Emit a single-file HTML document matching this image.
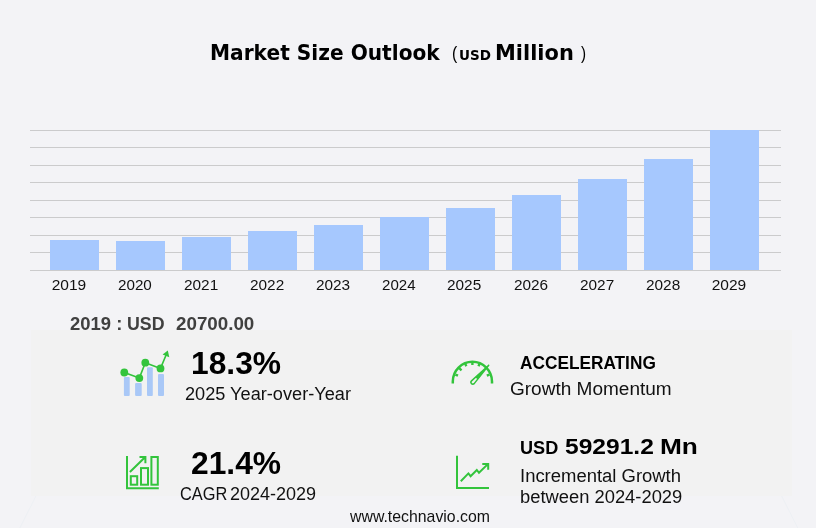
<!DOCTYPE html>
<html><head><meta charset="utf-8">
<style>
html,body{margin:0;padding:0;}
body{width:816px;height:528px;background:#f3f3f6;position:relative;overflow:hidden;font-family:"Liberation Sans",sans-serif;color:#000;}
.t{position:absolute;white-space:nowrap;line-height:1;transform-origin:0 0;}
.panel{position:absolute;left:31px;top:330px;width:761px;height:166px;background:#f2f2f2;}
.grid{position:absolute;left:30px;width:751px;height:1px;background:#cbcbcc;}
.bar{position:absolute;width:49px;background:#a6c8fe;}
svg{position:absolute;left:0;top:0;}
</style></head><body>
<div class="panel"></div>
<div class="grid" style="top:130px"></div>
<div class="grid" style="top:147px"></div>
<div class="grid" style="top:165px"></div>
<div class="grid" style="top:182px"></div>
<div class="grid" style="top:200px"></div>
<div class="grid" style="top:217px"></div>
<div class="grid" style="top:235px"></div>
<div class="grid" style="top:252px"></div>
<div class="grid" style="top:270px"></div>
<div class="bar" style="left:50px;top:240px;height:30px"></div>
<div class="bar" style="left:116px;top:241px;height:29px"></div>
<div class="bar" style="left:182px;top:237px;height:33px"></div>
<div class="bar" style="left:248px;top:231px;height:39px"></div>
<div class="bar" style="left:314px;top:225px;height:45px"></div>
<div class="bar" style="left:380px;top:217px;height:53px"></div>
<div class="bar" style="left:446px;top:208px;height:62px"></div>
<div class="bar" style="left:512px;top:195px;height:75px"></div>
<div class="bar" style="left:578px;top:179px;height:91px"></div>
<div class="bar" style="left:644px;top:159px;height:111px"></div>
<div class="bar" style="left:710px;top:130px;height:140px"></div>

<div class="t" id="title" style='left:209.69px;top:42.90px;font-size:20.80px;color:#000;font-family:"DejaVu Sans","Liberation Sans",sans-serif;font-weight:bold;transform:scaleX(0.9692);'>Market Size Outlook</div>
<div class="t" id="t2" style='left:452.10px;top:42.60px;font-size:19.00px;color:#000;font-family:"Liberation Sans",sans-serif;transform:scaleX(0.8281);'>(</div>
<div class="t" id="t3" style='left:459.10px;top:47.80px;font-size:14.30px;color:#000;font-family:"DejaVu Sans","Liberation Sans",sans-serif;font-weight:bold;transform:scaleX(0.9450);'>USD</div>
<div class="t" id="t4" style='left:494.89px;top:42.90px;font-size:20.80px;color:#000;font-family:"DejaVu Sans","Liberation Sans",sans-serif;font-weight:bold;transform:scaleX(1.0068);'>Million</div>
<div class="t" id="t5" style='left:581.26px;top:42.60px;font-size:19.00px;color:#000;font-family:"Liberation Sans",sans-serif;transform:scaleX(0.7994);'>)</div>
<div class="t" id="s1" style='left:70.29px;top:314.50px;font-size:18.20px;color:#404040;font-family:"Liberation Sans",sans-serif;font-weight:bold;transform:scaleX(1.0136);'>2019 :</div>
<div class="t" id="s2" style='left:126.65px;top:314.50px;font-size:18.20px;color:#404040;font-family:"Liberation Sans",sans-serif;font-weight:bold;transform:scaleX(0.9767);'>USD</div>
<div class="t" id="s3" style='left:175.58px;top:314.50px;font-size:18.20px;color:#404040;font-family:"Liberation Sans",sans-serif;font-weight:bold;transform:scaleX(1.0320);'>20700.00</div>
<div class="t" id="v1" style='left:190.70px;top:348.07px;font-size:31.00px;color:#000;font-family:"Liberation Sans",sans-serif;font-weight:bold;transform:scaleX(1.0243);'>18.3%</div>
<div class="t" id="l1" style='left:184.93px;top:385.42px;font-size:18.30px;color:#111;font-family:"Liberation Sans",sans-serif;transform:scaleX(0.9935);'>2025 Year-over-Year</div>
<div class="t" id="v2" style='left:520.20px;top:354.47px;font-size:18.00px;color:#000;font-family:"Liberation Sans",sans-serif;font-weight:bold;transform:scaleX(0.9586);'>ACCELERATING</div>
<div class="t" id="l2" style='left:509.80px;top:380.42px;font-size:18.30px;color:#111;font-family:"Liberation Sans",sans-serif;transform:scaleX(1.0402);'>Growth Momentum</div>
<div class="t" id="v3" style='left:190.89px;top:447.77px;font-size:31.00px;color:#000;font-family:"Liberation Sans",sans-serif;font-weight:bold;transform:scaleX(1.0241);'>21.4%</div>
<div class="t" id="l3a" style='left:180.12px;top:483.60px;font-size:19.20px;color:#111;font-family:"Liberation Sans",sans-serif;transform:scaleX(0.8535);'>CAGR</div>
<div class="t" id="l3b" style='left:230.45px;top:483.60px;font-size:19.20px;color:#111;font-family:"Liberation Sans",sans-serif;transform:scaleX(0.9382);'>2024-2029</div>
<div class="t" id="v4a" style='left:520.36px;top:440.01px;font-size:17.60px;color:#000;font-family:"Liberation Sans",sans-serif;font-weight:bold;transform:scaleX(1.0282);'>USD</div>
<div class="t" id="v4" style='left:564.71px;top:435.96px;font-size:21.20px;color:#000;font-family:"Liberation Sans",sans-serif;font-weight:bold;transform:scaleX(1.1599);'>59291.2</div>
<div class="t" id="v4b" style='left:660.27px;top:435.76px;font-size:21.20px;color:#000;font-family:"Liberation Sans",sans-serif;font-weight:bold;transform:scaleX(1.2392);'>Mn</div>
<div class="t" id="l4" style='left:519.74px;top:466.67px;font-size:18.00px;color:#111;font-family:"Liberation Sans",sans-serif;transform:scaleX(1.0251);'>Incremental Growth</div>
<div class="t" id="l5" style='left:519.62px;top:488.47px;font-size:18.00px;color:#111;font-family:"Liberation Sans",sans-serif;transform:scaleX(1.0196);'>between 2024-2029</div>
<div class="t" id="foot" style='left:350.34px;top:508.92px;font-size:15.70px;color:#111;font-family:"Liberation Sans",sans-serif;transform:scaleX(1.0098);'>www.technavio.com</div>
<div class="t" id="y2019" style='left:51.70px;top:276.99px;font-size:15.50px;color:#111;font-family:"Liberation Sans",sans-serif;'>2019</div>
<div class="t" id="y2020" style='left:117.82px;top:276.99px;font-size:15.50px;color:#111;font-family:"Liberation Sans",sans-serif;transform:scaleX(0.9810);'>2020</div>
<div class="t" id="y2021" style='left:183.70px;top:276.99px;font-size:15.50px;color:#111;font-family:"Liberation Sans",sans-serif;transform:scaleX(0.9931);'>2021</div>
<div class="t" id="y2022" style='left:249.70px;top:276.99px;font-size:15.50px;color:#111;font-family:"Liberation Sans",sans-serif;transform:scaleX(0.9910);'>2022</div>
<div class="t" id="y2023" style='left:315.70px;top:276.99px;font-size:15.50px;color:#111;font-family:"Liberation Sans",sans-serif;transform:scaleX(0.9908);'>2023</div>
<div class="t" id="y2024" style='left:381.85px;top:276.99px;font-size:15.50px;color:#111;font-family:"Liberation Sans",sans-serif;transform:scaleX(0.9722);'>2024</div>
<div class="t" id="y2025" style='left:446.92px;top:276.99px;font-size:15.50px;color:#111;font-family:"Liberation Sans",sans-serif;transform:scaleX(0.9917);'>2025</div>
<div class="t" id="y2026" style='left:513.71px;top:276.99px;font-size:15.50px;color:#111;font-family:"Liberation Sans",sans-serif;transform:scaleX(0.9904);'>2026</div>
<div class="t" id="y2027" style='left:579.70px;top:276.99px;font-size:15.50px;color:#111;font-family:"Liberation Sans",sans-serif;transform:scaleX(0.9910);'>2027</div>
<div class="t" id="y2028" style='left:645.70px;top:276.99px;font-size:15.50px;color:#111;font-family:"Liberation Sans",sans-serif;transform:scaleX(0.9926);'>2028</div>
<div class="t" id="y2029" style='left:711.70px;top:276.99px;font-size:15.50px;color:#111;font-family:"Liberation Sans",sans-serif;'>2029</div>
<svg id="icons" width="816" height="528" viewBox="0 0 816 528" fill="none">
<g stroke="#edf0f4" stroke-width="1"><line x1="36" y1="496" x2="19.8" y2="528"/><line x1="781.6" y1="496" x2="797.8" y2="528"/></g>
<!-- icon 1: bars + trend line -->
<g fill="#a9c8f7">
<rect x="123.9" y="377" width="5.8" height="19" rx="1"/>
<rect x="135.1" y="383.1" width="6.6" height="12.9" rx="1"/>
<rect x="147" y="367.2" width="5.8" height="28.8" rx="1"/>
<rect x="158" y="374" width="6" height="22" rx="1"/>
</g>
<g stroke="#33c43c" stroke-width="1.6" stroke-linecap="round" stroke-linejoin="round">
<polyline points="124.3,372.5 139.3,378.1 145.3,362.7 160.5,368.4 166.3,354.5"/>
</g>
<g fill="#33c43c">
<circle cx="124.3" cy="372.5" r="3.9"/><circle cx="139.3" cy="378.1" r="3.9"/><circle cx="145.3" cy="362.7" r="3.9"/><circle cx="160.5" cy="368.4" r="3.9"/>
<polygon points="167.8,350.4 169.3,357.2 162.6,354.4"/>
</g>
<!-- icon 2: gauge -->
<g stroke="#33c43c" stroke-width="2.5" fill="none">
<path d="M452.8 383.6 V381.4 A19.6 19.6 0 0 1 492 381.4 V383.6"/>
</g>
<g stroke="#33c43c" stroke-width="2.4">
<line x1="455.4" y1="374.6" x2="458" y2="375.7"/>
<line x1="459.2" y1="368.2" x2="461.5" y2="370.3"/>
<line x1="465.2" y1="363.6" x2="466.3" y2="366.3"/>
<line x1="472.4" y1="362" x2="472.4" y2="365"/>
<line x1="479.6" y1="363.6" x2="478.5" y2="366.3"/>
<line x1="489.4" y1="374.6" x2="486.8" y2="375.7"/>
</g>
<path d="M488.7 365.3 L471.5 380.9 A1.9 1.9 0 0 0 474.2 383.6 Z" stroke="#33c43c" stroke-width="1.5" stroke-linejoin="round" fill="none"/>
<path d="M488.7 365.3 L475.5 377.2 L477.6 379.6 Z" fill="#33c43c"/>
<!-- icon 3: bar chart outline with arrow -->
<g stroke="#33c43c" stroke-width="2" fill="none">
<path d="M127 456 V488.3 H158.8"/>
<rect x="130.8" y="476.2" width="6.4" height="8.5"/>
<rect x="141" y="468.1" width="7" height="16.6"/>
<rect x="151.4" y="457" width="6.4" height="27.7"/>
<path d="M129.9 472 L145 457.2 M139.5 457 H145.4 V463.2"/>
</g>
<!-- icon 4: line chart with arrow -->
<g stroke="#33c43c" stroke-width="2" fill="none">
<path d="M457 455.7 V488 H489"/>
<path d="M460.8 481.2 L468.4 473.4 L470.6 476.2 L476.8 470 L479 472.8 L487.6 464.4 M482.3 464 H488.2 V469.8"/>
</g>
</svg>

</body></html>
